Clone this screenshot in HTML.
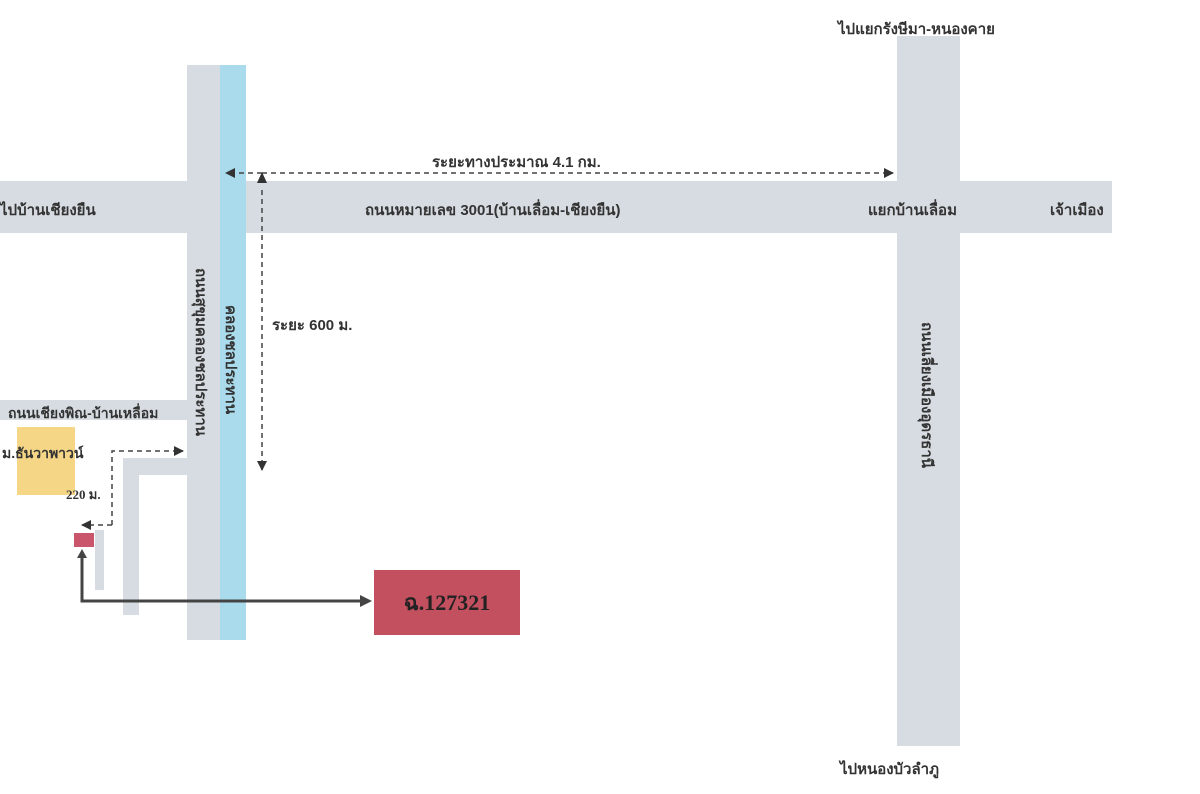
<!DOCTYPE html>
<html><head><meta charset="utf-8"><style>
body{margin:0;width:1200px;height:794px;background:#fff;position:relative;overflow:hidden;font-family:"Liberation Sans","DejaVu Sans",sans-serif;font-weight:bold;color:#333}
div{position:absolute}
.r{background:#d6dce1}
.t{font-size:15px;white-space:nowrap}
.v{transform-origin:0 0;transform:rotate(90deg);white-space:nowrap;font-size:15px}
</style></head><body>
<div class="r" style="left:0;top:181px;width:1112px;height:52px"></div>
<div class="r" style="left:187px;top:65px;width:34px;height:575px"></div>
<div style="left:220px;top:65px;width:26px;height:575px;background:#a9dbec"></div>
<div class="r" style="left:897px;top:36px;width:63px;height:710px"></div>
<div class="r" style="left:0;top:400px;width:187px;height:20px"></div>
<div class="r" style="left:123px;top:458px;width:64px;height:17px"></div>
<div class="r" style="left:123px;top:458px;width:16px;height:157px"></div>
<div class="r" style="left:95px;top:530px;width:9px;height:60px"></div>
<div style="left:17px;top:427px;width:58px;height:68px;background:#f5d686"></div>
<div style="left:74px;top:533px;width:20px;height:14px;background:#c9566a"></div>
<div style="left:374px;top:570px;width:146px;height:65px;background:#c3505f;color:#222;font-family:'Liberation Serif',serif;font-size:22px;line-height:65px;text-align:center">ฉ.127321</div>
<svg style="position:absolute;left:0;top:0" width="1200" height="794">
<defs><marker id="a" markerUnits="userSpaceOnUse" markerWidth="10" markerHeight="10" refX="9" refY="5" orient="auto"><path d="M0,0L10,5L0,10z" fill="#333"/></marker></defs>
<g stroke="#444" stroke-width="1.5" stroke-dasharray="5,4" fill="none">
<line x1="262" y1="173" x2="226" y2="173" marker-end="url(#a)"/>
<line x1="262" y1="173" x2="893" y2="173" marker-end="url(#a)"/>
<line x1="262" y1="190" x2="262" y2="470" marker-end="url(#a)"/>
<polyline points="112,525 112,451 183,451" marker-end="url(#a)"/>
<line x1="112" y1="525" x2="82" y2="525" marker-end="url(#a)"/>
</g>
<path d="M262,172 L257,183 L267,183z" fill="#333"/>
<polyline points="82,556 82,601 362,601" fill="none" stroke="#444" stroke-width="3"/>
<path d="M372,601 L360,595 L360,607z" fill="#444"/>
<path d="M82,549 L77,558 L87,558z" fill="#444"/>
</svg>
<div class="t" style="left:838px;top:17px">ไปแยกรังษีมา-หนองคาย</div>
<div class="t" style="left:432px;top:150px">ระยะทางประมาณ 4.1 กม.</div>
<div class="t" style="left:0;top:198px">ไปบ้านเชียงยืน</div>
<div class="t" style="left:365px;top:198px">ถนนหมายเลข 3001(บ้านเลื่อม-เชียงยืน)</div>
<div class="t" style="left:868px;top:198px">แยกบ้านเลื่อม</div>
<div class="t" style="left:1050px;top:198px">เจ้าเมือง</div>
<div class="t" style="left:272px;top:313px">ระยะ 600 ม.</div>
<div class="t" style="left:8px;top:403px;font-size:14px">ถนนเชียงพิณ-บ้านเหลื่อม</div>
<div class="t" style="left:2px;top:443px;font-size:14px">ม.ธันวาพาวน์</div>
<div class="t" style="left:66px;top:484px;font-size:13px;font-family:'Liberation Serif',serif">220 ม.</div>
<div class="v" style="left:213px;top:268px">ถนนสุขุมคลองชลประทาน</div>
<div class="v" style="left:243px;top:305px">คลองชลประทาน</div>
<div class="v" style="left:939px;top:322px">ถนนเลี่ยงเมืองอุดรธานี</div>
<div class="t" style="left:840px;top:757px">ไปหนองบัวลำภู</div>
</body></html>
